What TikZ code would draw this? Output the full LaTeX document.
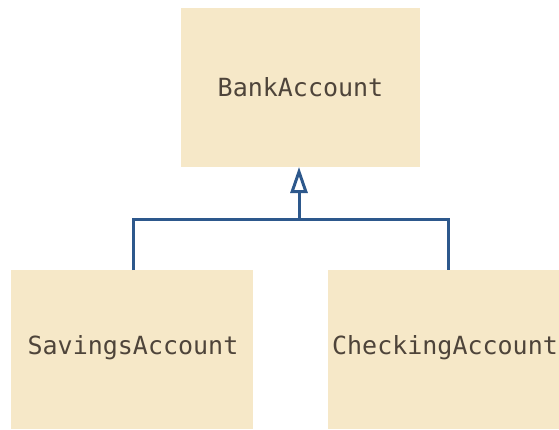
\documentclass[tikz,border=0pt]{standalone}
\usepackage{fontspec}
\newfontfamily\monofont{DejaVu Sans Mono}
\usetikzlibrary{arrows.meta}
\definecolor{boxfill}{RGB}{246,232,200}
\definecolor{linkblue}{RGB}{45,88,140}
\definecolor{txtgray}{RGB}{78,68,58}
\begin{document}
\begin{tikzpicture}[x=1pt,y=-1pt,
  classbox/.style={fill=boxfill, draw=none, inner sep=0pt, font=\monofont\fontsize{25}{30}\selectfont, text=txtgray},
  link/.style={draw=linkblue, line width=3pt}]
\useasboundingbox (0,0) rectangle (559,429);
\fill[boxfill] (181,8) rectangle (420,167);
\node[classbox, anchor=center] (bank) at (300.5,87.5) {BankAccount};
\coordinate (bankbot) at (299,167);
\fill[boxfill] (11,270) rectangle (253,429);
\node[classbox, anchor=center] (sav) at (133,348) {SavingsAccount};
\coordinate (savtop) at (133,270);
\fill[boxfill] (328,270) rectangle (559,429);
\node[classbox, anchor=center] (chk) at (445,348) {CheckingAccount};
\coordinate (chktop) at (448,270);
\coordinate (junc) at (299,219);
\draw[link] (savtop) |- (junc) -| (chktop);
\draw[link, -{Triangle[open, length=26pt, width=17pt, line width=3pt]}] (junc) -- (bankbot);
\end{tikzpicture}
\end{document}
